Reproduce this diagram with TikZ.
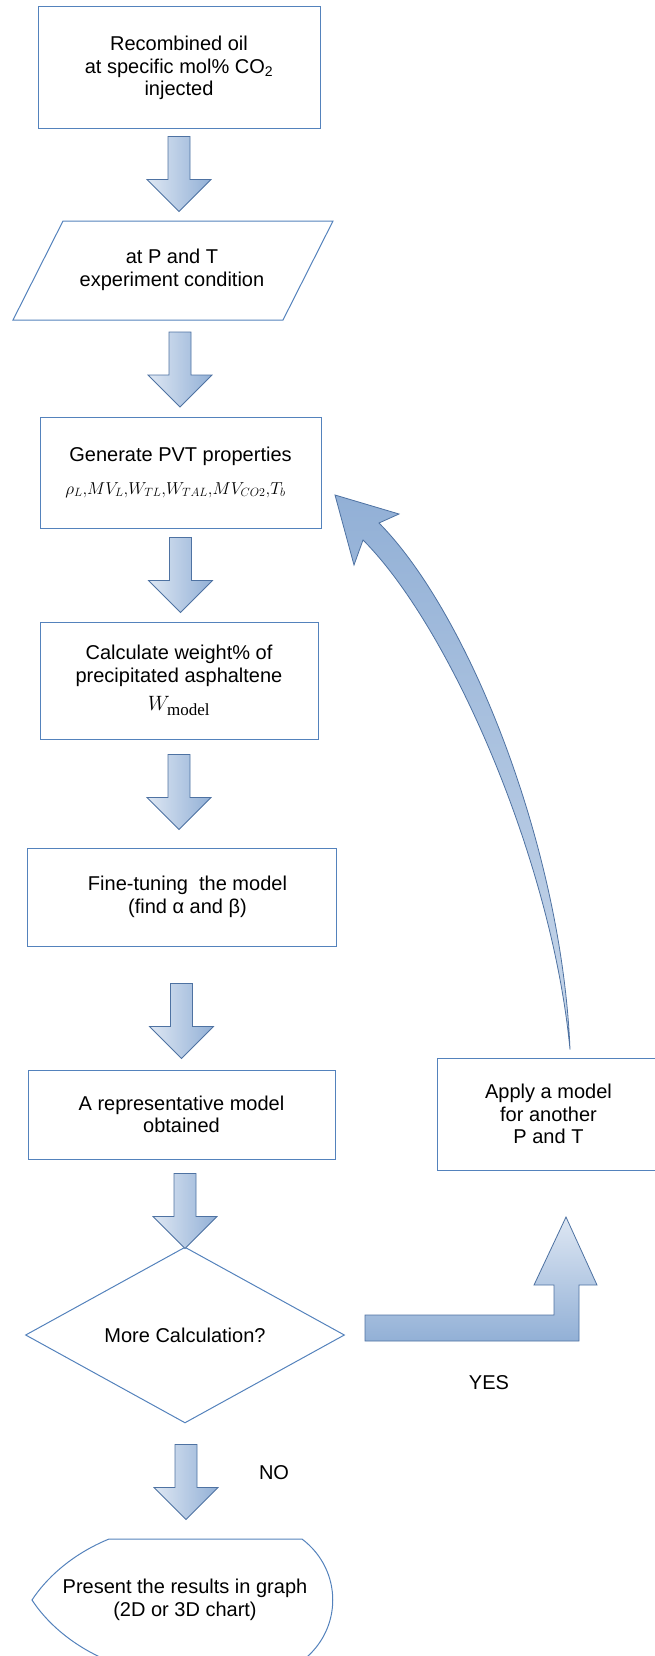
\documentclass[tikz,border=0pt]{standalone}
\usepackage{fontspec}
\setmainfont{Liberation Sans}
\newfontfamily\serifmath{Liberation Serif}
\usepackage{amsmath}
\usetikzlibrary{shapes.geometric,calc}

\definecolor{boxline}{RGB}{84,130,188}
\definecolor{arrowline}{RGB}{78,114,162}
\definecolor{arrowlight}{RGB}{222,231,243}
\definecolor{arrowdark}{RGB}{146,176,214}
\definecolor{arrowpale}{RGB}{200,215,234}

\tikzset{
  procbox/.style={draw=boxline, line width=1pt, align=center, inner sep=0pt},
  arrowfill/.style={draw=arrowline, line width=0.8pt},
  blockdown/.pic={
    \path[arrowfill, left color=arrowlight, right color=arrowdark]
      (-11,0) -- (11,0) -- (11,43) -- (32,43) -- (0,75) -- (-32,43) -- (-11,43) -- cycle;
  }
}

\begin{document}
\begin{tikzpicture}[x=1pt, y=-1pt, font=\fontsize{20}{22.5}\selectfont]
\useasboundingbox (0,0) rectangle (655,1656);
\clip (0,0) rectangle (655,1656);

\node[procbox, minimum width=282, minimum height=122] (b1) at (179,68) {Recombined oil\\at specific mol\% CO\textsubscript{2}\\injected};

\node[align=center] (p1) at (172,270) {at P and T\\experiment condition};
\draw[boxline, line width=1pt] (63,221) -- (333,221) -- (283,320) -- (13,320) -- cycle;

\node[procbox, minimum width=281, minimum height=111] (b3) at (180.5,472.5) {Generate PVT properties\\[10pt]{\fontsize{16.5}{18}\selectfont$\rho_L{,}MV_L{,}W_{TL}{,}W_{TAL}{,}MV_{CO2}{,}T_b$}\hspace*{10pt}};

\node[procbox, minimum width=278, minimum height=117] (b4) at (179,680.5) {Calculate weight\% of\\precipitated asphaltene\\[6pt]$W_{\text{\fontsize{17}{17}\selectfont\serifmath model}}$};

\node[procbox, minimum width=309, minimum height=98] (b5) at (181.5,897) {\hspace*{12pt}Fine-tuning\ \ the model\\\hspace*{12pt}(find α and β)};

\node[procbox, minimum width=307, minimum height=89] (b6) at (181.5,1114.5) {A representative model\\obtained};

\node[procbox, minimum width=223, minimum height=112] (b7) at (548.5,1114) {Apply a model\\for another\\P and T};

\node[diamond, draw=boxline, line width=1pt, minimum width=319, minimum height=153, inner sep=0pt] (d1) at (185,1335) {More Calculation?};

\node[align=center] (t1) at (185,1600) {Present the results in graph\\(2D or 3D chart)};
\draw[boxline, line width=1pt] (109,1539) -- (302,1539) .. controls (343,1570) and (343,1630) .. (302,1661) -- (109,1661) .. controls (70,1645) and (45,1620) .. (32,1600) .. controls (45,1580) and (70,1555) .. (109,1539) -- cycle;

\node (yes) at (489,1383) {YES};
\node (no) at (274,1473) {NO};

% block arrows down the main column
\pic at ($(b1.south)+(0,7)$) {blockdown};
\pic at ($(p1)+(8,62)$) {blockdown};
\pic at ($(b3.south)+(0,9)$) {blockdown};
\pic at ($(b4.south)+(0,15)$) {blockdown};
\pic at ($(b5.south)+(0,37)$) {blockdown};
\pic at ($(b6.south)+(3.5,14)$) {blockdown};
\pic at ($(d1.south)+(1,21)$) {blockdown};

% yes branch
\path[arrowfill, top color=arrowlight, bottom color=arrowdark] ($(d1.east)+(20,-20)$) -- ++(189,0) -- ++(0,-30) -- ++(-20,0) -- ++(32,-68) -- ++(31,68) -- ++(-18,0) -- ++(0,56) -- ++(-214,0) -- cycle;

% loop back
\coordinate (tail) at ($(b7.north)+(21.5,-8)$);
\path[arrowfill, top color=arrowdark, bottom color=arrowpale] (tail) .. controls (562,850) and (470,615) .. (379,523) -- (399,514) -- (335,495) -- (354,565) -- (363,540) .. controls (450,627) and (552,860) .. (tail) -- cycle;

\end{tikzpicture}
\end{document}
